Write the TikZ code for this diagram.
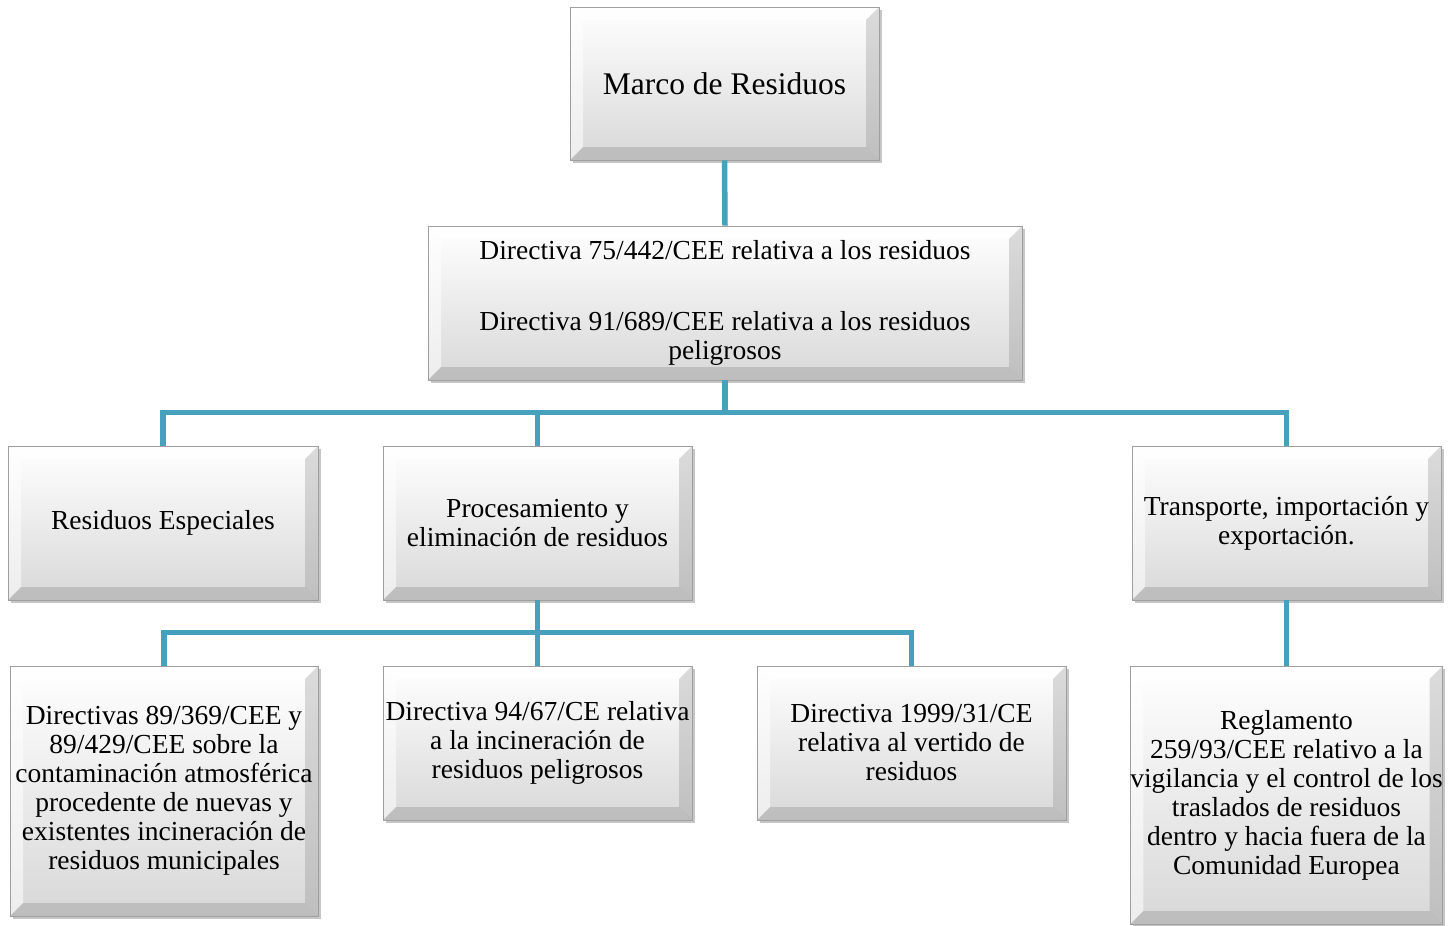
\documentclass[tikz,border=0pt]{standalone}
\usepackage{fontspec}
\setmainfont{Liberation Serif}
\usetikzlibrary{shadows}
\definecolor{conncol}{HTML}{45A1BC}
\definecolor{facebot}{HTML}{D8D8D8}
\tikzset{
  conn/.style={draw=conncol, line width=5.5pt},
  bevbox/.style={draw=gray!75, line width=0.8pt, top color=white, bottom color=facebot,
    drop shadow={shadow xshift=2.5pt, shadow yshift=-2.5pt, opacity=0.45, fill=gray},
    align=center, inner sep=0pt, font=\fontsize{27.5}{29}\selectfont,
    path picture={
      \def\bb{path picture bounding box}
      \fill[white, opacity=0.85] (\bb.north west) -- (\bb.north east) -- ([xshift=-13pt,yshift=-13pt]\bb.north east) -- ([xshift=13pt,yshift=-13pt]\bb.north west) -- cycle;
      \fill[white, opacity=0.55] (\bb.north west) -- ([xshift=13pt,yshift=-13pt]\bb.north west) -- ([xshift=13pt,yshift=13pt]\bb.south west) -- (\bb.south west) -- cycle;
      \fill[gray, opacity=0.28] (\bb.north east) -- ([xshift=-13pt,yshift=-13pt]\bb.north east) -- ([xshift=-13pt,yshift=13pt]\bb.south east) -- (\bb.south east) -- cycle;
      \fill[gray, opacity=0.30] (\bb.south west) -- ([xshift=13pt,yshift=13pt]\bb.south west) -- ([xshift=-13pt,yshift=13pt]\bb.south east) -- (\bb.south east) -- cycle;
    }},
  bigtext/.style={font=\fontsize{31.5}{33}\selectfont},
}
\begin{document}
\begin{tikzpicture}[x=1pt, y=-1pt]
\useasboundingbox (0,0) rectangle (1452,926);
% nodes
\node[bevbox, bigtext, minimum width=309pt, minimum height=153pt] (top) at (724.5,83.5) {Marco de Residuos};
\node[bevbox, minimum width=594pt, minimum height=154pt] (dir) at (725,303) {Directiva 75/442/CEE relativa a los residuos\\[42pt]Directiva 91/689/CEE relativa a los residuos\\peligrosos};
\node[bevbox, minimum width=310pt, minimum height=154pt] (esp) at (163,523) {Residuos Especiales};
\node[bevbox, minimum width=309pt, minimum height=154pt] (proc) at (537.5,523) {Procesamiento y\\eliminación de residuos};
\node[bevbox, minimum width=309pt, minimum height=154pt] (trans) at (1286.5,523) {Transporte, importación y\\exportación.};
\node[bevbox, minimum width=308pt, minimum height=250pt] (d1) at (164,791) {Directivas 89/369/CEE y\\89/429/CEE sobre la\\contaminación atmosférica\\procedente de nuevas y\\existentes incineración de\\residuos municipales};
\node[bevbox, minimum width=309pt, minimum height=154pt] (d2) at (537.5,743) {Directiva 94/67/CE relativa\\a la incineración de\\residuos peligrosos};
\node[bevbox, minimum width=309pt, minimum height=154pt] (d3) at (911.5,743) {Directiva 1999/31/CE\\relativa al vertido de\\residuos};
\node[bevbox, minimum width=309pt, minimum height=258pt] (d4) at (1286.5,795) {Reglamento\\259/93/CEE relativo a la\\vigilancia y el control de los\\traslados de residuos\\dentro y hacia fuera de la\\Comunidad Europea};
% connectors
\draw[conn] (top.south) -- (dir.north);
\draw[conn] (dir.south) -- ++(0,32) coordinate (b1);
\draw[conn] (b1) -| (esp.north);
\draw[conn] (b1) -| (proc.north);
\draw[conn] (b1) -| (trans.north);
\draw[conn] (proc.south) -- ++(0,32) coordinate (b2);
\draw[conn] (b2) -| (d1.north);
\draw[conn] (b2) -- (d2.north);
\draw[conn] (b2) -| (d3.north);
\draw[conn] (trans.south) -- (d4.north);
\end{tikzpicture}
\end{document}
